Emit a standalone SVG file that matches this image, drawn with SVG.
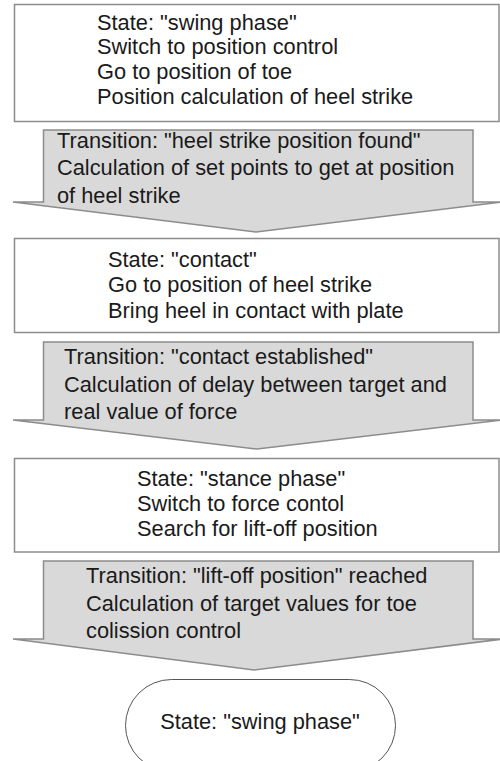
<svg xmlns="http://www.w3.org/2000/svg" width="500" height="761" viewBox="0 0 500 761">
<style>
.state{fill:#ffffff;stroke:#8c8c8c;stroke-width:1.5}
.trans{fill:#d9d9d9;stroke:#8c8c8c;stroke-width:1.5}
.end{fill:#ffffff;stroke:#555555;stroke-width:1}
text{font-family:"Liberation Sans",Arial,sans-serif;font-size:21.8px;fill:#1a1a1a}
</style>
<rect width="500" height="761" fill="#ffffff"/>
<g id="connectors"></g>
<g id="state1">
<rect class="state" x="14.5" y="4.5" width="484.5" height="117"/>
<text x="97" y="30">State: "swing phase"</text>
<text x="97" y="54">Switch to position control</text>
<text x="97" y="79">Go to position of toe</text>
<text x="97" y="104">Position calculation of heel strike</text>
</g>
<g id="transition1">
<polygon class="trans" points="43.5,130 473,130 473,202 503,202 256,232 13,202 43.5,202"/>
<text x="57" y="148">Transition: "heel strike position found"</text>
<text x="57" y="175">Calculation of set points to get at position</text>
<text x="57" y="203">of heel strike</text>
</g>
<g id="state2">
<rect class="state" x="14.5" y="238.5" width="484.5" height="94"/>
<text x="108" y="267">State: "contact"</text>
<text x="108" y="292">Go to position of heel strike</text>
<text x="108" y="318">Bring heel in contact with plate</text>
</g>
<g id="transition2">
<polygon class="trans" points="43.5,342 473,342 473,420 503,420 257,449 13,420 43.5,420"/>
<text x="64" y="364">Transition: "contact established"</text>
<text x="64" y="392">Calculation of delay between target and</text>
<text x="64" y="419">real value of force</text>
</g>
<g id="state3">
<rect class="state" x="14.5" y="458.5" width="484.5" height="93.5"/>
<text x="137" y="486">State: "stance phase"</text>
<text x="137" y="511">Switch to force contol</text>
<text x="137" y="536">Search for lift-off position</text>
</g>
<g id="transition3">
<polygon class="trans" points="43.5,561 473,561 473,639 503,639 254,670 13,639 43.5,639"/>
<text x="86" y="583">Transition: "lift-off position" reached</text>
<text x="86" y="611">Calculation of target values for toe</text>
<text x="86" y="638">colission control</text>
</g>
<g id="state4">
<rect class="end" x="125.5" y="679.5" width="270" height="92" rx="46"/>
<text x="260" y="729" text-anchor="middle">State: "swing phase"</text>
</g>
</svg>
